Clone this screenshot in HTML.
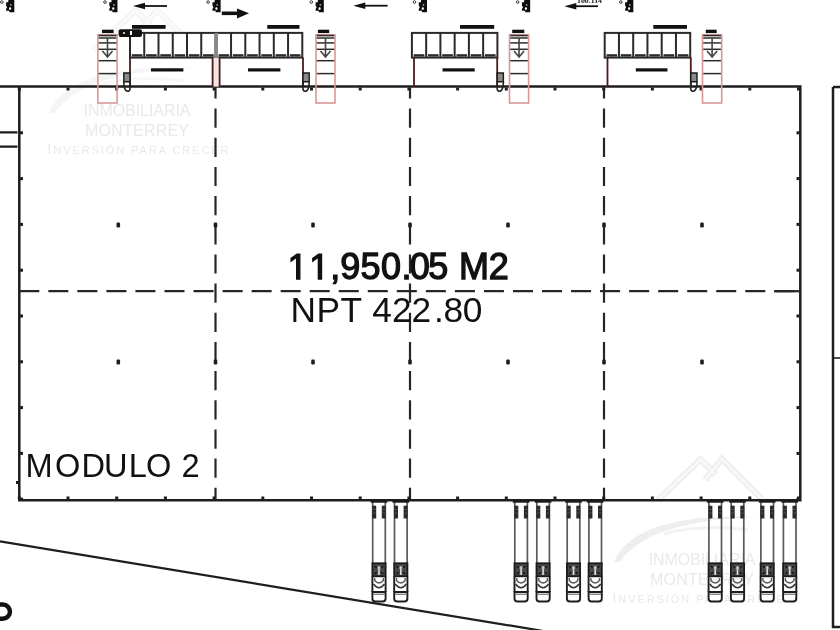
<!DOCTYPE html>
<html><head><meta charset="utf-8"><style>
html,body{margin:0;padding:0;background:#fff;}
body{width:840px;height:630px;overflow:hidden;}
svg{display:block;will-change:transform;}
</style></head><body>
<svg width="840" height="630" viewBox="0 0 840 630">
<g transform="translate(-565,-449)" fill="none" stroke-linejoin="miter" opacity="0.6">
<path d="M658 500 L700.5 459.5 L716 475 M705 480 L722 459 L762 499" stroke="#efefef" stroke-width="6.5"/>
<path d="M658 500 L700.5 459.5 L716 475 M705 480 L722 459 L762 499" stroke="#fafafa" stroke-width="2"/>
<path d="M614 562 C 626 532, 670 513, 760 517 C 690 519, 640 532, 620 562 Z" fill="#eeeeee" stroke="none"/>
<path d="M664 534 C 690 527, 720 526, 748 530" stroke="#f2f2f2" stroke-width="3"/>
</g>
<g transform="translate(-565,-449)" fill="#e9e9e9" font-family="Liberation Sans, sans-serif">
<text x="648.5" y="564.5" font-size="16" textLength="107" lengthAdjust="spacing">INMOBILIARIA</text>
<text x="650" y="584.5" font-size="16" textLength="104" lengthAdjust="spacing">MONTERREY</text>
<text x="612.5" y="603" font-size="14" textLength="181" lengthAdjust="spacing">I<tspan font-size="11">NVERSIÓN PARA CRECER</tspan></text>
</g>
<g transform="translate(0,0)" fill="none" stroke-linejoin="miter" opacity="1">
<path d="M658 500 L700.5 459.5 L716 475 M705 480 L722 459 L762 499" stroke="#efefef" stroke-width="6.5"/>
<path d="M658 500 L700.5 459.5 L716 475 M705 480 L722 459 L762 499" stroke="#fafafa" stroke-width="2"/>
<path d="M614 562 C 626 532, 670 513, 760 517 C 690 519, 640 532, 620 562 Z" fill="#eeeeee" stroke="none"/>
<path d="M664 534 C 690 527, 720 526, 748 530" stroke="#f2f2f2" stroke-width="3"/>
</g>
<g transform="translate(0,0)" fill="#e9e9e9" font-family="Liberation Sans, sans-serif">
<text x="648.5" y="564.5" font-size="16" textLength="107" lengthAdjust="spacing">INMOBILIARIA</text>
<text x="650" y="584.5" font-size="16" textLength="104" lengthAdjust="spacing">MONTERREY</text>
<text x="612.5" y="603" font-size="14" textLength="181" lengthAdjust="spacing">I<tspan font-size="11">NVERSIÓN PARA CRECER</tspan></text>
</g>
<g stroke="#1e1e1e" fill="none" stroke-width="2.5">
<path d="M0 86.5 H800.3 V500.3 H19.3 V86.5" />
<path d="M0 132.3 H17.5 M0 146.7 H17.5" stroke-width="2.2" />
<path d="M833 87 H840 M833 87 V627 H840" />
</g>
<g stroke="#262626" stroke-width="2.2" fill="none">
<path d="M215.5 87.5 V499" stroke-dasharray="19.2 9.97" stroke-dashoffset="8.1"/>
<path d="M410 87.5 V499" stroke-dasharray="19.2 9.97" stroke-dashoffset="8.1"/>
<path d="M604 87.5 V499" stroke-dasharray="19.2 9.97" stroke-dashoffset="8.1"/>
<path d="M19.3 291.2 H799" stroke-dasharray="20 9.04"/>
<path d="M774.3 291.2 H799"/>
</g>
<g fill="#1e1e1e">
<rect x="17.8" y="87.5" width="3" height="3"/>
<rect x="17.8" y="496.5" width="3" height="3"/>
<rect x="66.5" y="87.5" width="3" height="3"/>
<rect x="66.5" y="496.5" width="3" height="3"/>
<rect x="115.2" y="87.5" width="3" height="3"/>
<rect x="115.2" y="496.5" width="3" height="3"/>
<rect x="163.9" y="87.5" width="3" height="3"/>
<rect x="163.9" y="496.5" width="3" height="3"/>
<rect x="212.6" y="87.5" width="3" height="3"/>
<rect x="212.6" y="496.5" width="3" height="3"/>
<rect x="261.3" y="87.5" width="3" height="3"/>
<rect x="261.3" y="496.5" width="3" height="3"/>
<rect x="310.0" y="87.5" width="3" height="3"/>
<rect x="310.0" y="496.5" width="3" height="3"/>
<rect x="358.7" y="87.5" width="3" height="3"/>
<rect x="358.7" y="496.5" width="3" height="3"/>
<rect x="407.4" y="87.5" width="3" height="3"/>
<rect x="407.4" y="496.5" width="3" height="3"/>
<rect x="456.1" y="87.5" width="3" height="3"/>
<rect x="456.1" y="496.5" width="3" height="3"/>
<rect x="504.8" y="87.5" width="3" height="3"/>
<rect x="504.8" y="496.5" width="3" height="3"/>
<rect x="553.5" y="87.5" width="3" height="3"/>
<rect x="553.5" y="496.5" width="3" height="3"/>
<rect x="602.2" y="87.5" width="3" height="3"/>
<rect x="602.2" y="496.5" width="3" height="3"/>
<rect x="650.9" y="87.5" width="3" height="3"/>
<rect x="650.9" y="496.5" width="3" height="3"/>
<rect x="699.6" y="87.5" width="3" height="3"/>
<rect x="699.6" y="496.5" width="3" height="3"/>
<rect x="748.3" y="87.5" width="3" height="3"/>
<rect x="748.3" y="496.5" width="3" height="3"/>
<rect x="797.0" y="87.5" width="3" height="3"/>
<rect x="797.0" y="496.5" width="3" height="3"/>
<rect x="20" y="131.3" width="3" height="3"/>
<rect x="796.5" y="131.3" width="3" height="3"/>
<rect x="20" y="177.1" width="3" height="3"/>
<rect x="796.5" y="177.1" width="3" height="3"/>
<rect x="20" y="222.9" width="3" height="3"/>
<rect x="796.5" y="222.9" width="3" height="3"/>
<rect x="20" y="268.7" width="3" height="3"/>
<rect x="796.5" y="268.7" width="3" height="3"/>
<rect x="20" y="314.5" width="3" height="3"/>
<rect x="796.5" y="314.5" width="3" height="3"/>
<rect x="20" y="360.3" width="3" height="3"/>
<rect x="796.5" y="360.3" width="3" height="3"/>
<rect x="20" y="406.1" width="3" height="3"/>
<rect x="796.5" y="406.1" width="3" height="3"/>
<rect x="20" y="451.9" width="3" height="3"/>
<rect x="796.5" y="451.9" width="3" height="3"/>
<rect x="20" y="497.7" width="3" height="3"/>
<rect x="796.5" y="497.7" width="3" height="3"/>
<rect x="16" y="481" width="3" height="3"/>
<path d="M833 358 H840" stroke="#1e1e1e" stroke-width="1.6"/>
<rect x="116.5" y="222.6" width="3.6" height="4.8" rx="1.2"/>
<rect x="116.5" y="359.6" width="3.6" height="4.8" rx="1.2"/>
<rect x="311.2" y="222.6" width="3.6" height="4.8" rx="1.2"/>
<rect x="311.2" y="359.6" width="3.6" height="4.8" rx="1.2"/>
<rect x="506.2" y="222.6" width="3.6" height="4.8" rx="1.2"/>
<rect x="506.2" y="359.6" width="3.6" height="4.8" rx="1.2"/>
<rect x="700.2" y="222.6" width="3.6" height="4.8" rx="1.2"/>
<rect x="700.2" y="359.6" width="3.6" height="4.8" rx="1.2"/>
<rect x="213.7" y="222.6" width="3.6" height="4.8" rx="1.2"/>
<rect x="213.7" y="359.6" width="3.6" height="4.8" rx="1.2"/>
<rect x="408.2" y="222.6" width="3.6" height="4.8" rx="1.2"/>
<rect x="408.2" y="359.6" width="3.6" height="4.8" rx="1.2"/>
<rect x="602.2" y="222.6" width="3.6" height="4.8" rx="1.2"/>
<rect x="602.2" y="359.6" width="3.6" height="4.8" rx="1.2"/>
</g>
<path d="M0 541.4 L840 680" stroke="#1e1e1e" stroke-width="2.2"/>
<path d="M-4 604.5 H2.8 A 7.15 7.15 0 0 1 2.8 618.8 H-4" stroke="#111" stroke-width="4.5" fill="none"/>
<g stroke="#2a2a2a" stroke-width="2" fill="none">
<rect x="130" y="32.9" width="85.50" height="24.7" fill="#fff"/>
<path d="M144.25 32.9 V57.6"/>
<path d="M158.50 32.9 V57.6"/>
<path d="M172.75 32.9 V57.6"/>
<path d="M187.00 32.9 V57.6"/>
<path d="M201.25 32.9 V57.6"/>
</g>
<rect x="131.80" y="54.2" width="10.65" height="2.4" fill="#2a2a2a"/>
<rect x="146.05" y="54.2" width="10.65" height="2.4" fill="#2a2a2a"/>
<rect x="160.30" y="54.2" width="10.65" height="2.4" fill="#2a2a2a"/>
<rect x="174.55" y="54.2" width="10.65" height="2.4" fill="#2a2a2a"/>
<rect x="188.80" y="54.2" width="10.65" height="2.4" fill="#2a2a2a"/>
<rect x="203.05" y="54.2" width="10.65" height="2.4" fill="#2a2a2a"/>
<g stroke="#2a2a2a" stroke-width="2" fill="none">
<rect x="216.8" y="32.9" width="85.50" height="24.7" fill="#fff"/>
<path d="M231.05 32.9 V57.6"/>
<path d="M245.30 32.9 V57.6"/>
<path d="M259.55 32.9 V57.6"/>
<path d="M273.80 32.9 V57.6"/>
<path d="M288.05 32.9 V57.6"/>
</g>
<rect x="218.60" y="54.2" width="10.65" height="2.4" fill="#2a2a2a"/>
<rect x="232.85" y="54.2" width="10.65" height="2.4" fill="#2a2a2a"/>
<rect x="247.10" y="54.2" width="10.65" height="2.4" fill="#2a2a2a"/>
<rect x="261.35" y="54.2" width="10.65" height="2.4" fill="#2a2a2a"/>
<rect x="275.60" y="54.2" width="10.65" height="2.4" fill="#2a2a2a"/>
<rect x="289.85" y="54.2" width="10.65" height="2.4" fill="#2a2a2a"/>
<g stroke="#2a2a2a" stroke-width="2" fill="none">
<rect x="411.9" y="32.9" width="85.50" height="24.7" fill="#fff"/>
<path d="M426.15 32.9 V57.6"/>
<path d="M440.40 32.9 V57.6"/>
<path d="M454.65 32.9 V57.6"/>
<path d="M468.90 32.9 V57.6"/>
<path d="M483.15 32.9 V57.6"/>
</g>
<rect x="413.70" y="54.2" width="10.65" height="2.4" fill="#2a2a2a"/>
<rect x="427.95" y="54.2" width="10.65" height="2.4" fill="#2a2a2a"/>
<rect x="442.20" y="54.2" width="10.65" height="2.4" fill="#2a2a2a"/>
<rect x="456.45" y="54.2" width="10.65" height="2.4" fill="#2a2a2a"/>
<rect x="470.70" y="54.2" width="10.65" height="2.4" fill="#2a2a2a"/>
<rect x="484.95" y="54.2" width="10.65" height="2.4" fill="#2a2a2a"/>
<g stroke="#2a2a2a" stroke-width="2" fill="none">
<rect x="604.7" y="32.9" width="85.50" height="24.7" fill="#fff"/>
<path d="M618.95 32.9 V57.6"/>
<path d="M633.20 32.9 V57.6"/>
<path d="M647.45 32.9 V57.6"/>
<path d="M661.70 32.9 V57.6"/>
<path d="M675.95 32.9 V57.6"/>
</g>
<rect x="606.50" y="54.2" width="10.65" height="2.4" fill="#2a2a2a"/>
<rect x="620.75" y="54.2" width="10.65" height="2.4" fill="#2a2a2a"/>
<rect x="635.00" y="54.2" width="10.65" height="2.4" fill="#2a2a2a"/>
<rect x="649.25" y="54.2" width="10.65" height="2.4" fill="#2a2a2a"/>
<rect x="663.50" y="54.2" width="10.65" height="2.4" fill="#2a2a2a"/>
<rect x="677.75" y="54.2" width="10.65" height="2.4" fill="#2a2a2a"/>
<rect x="213" y="57.6" width="6.5" height="29" fill="#f6e4e4"/>
<rect x="214.5" y="32.9" width="3.5" height="24.7" fill="#888"/>
<path d="M130 57.6 V87 M212.6 57.6 V87" stroke="#4a1c1c" stroke-width="1.8" fill="none"/>
<rect x="151" y="68.3" width="32.400000000000006" height="3.2" fill="#111"/>
<rect x="132" y="25" width="33.599999999999994" height="3.8" fill="#111"/>
<path d="M219.6 57.6 V87 M303 57.6 V87" stroke="#4a1c1c" stroke-width="1.8" fill="none"/>
<rect x="248" y="68.3" width="32.39999999999998" height="3.2" fill="#111"/>
<rect x="267.3" y="25" width="32.19999999999999" height="3.8" fill="#111"/>
<path d="M414 57.6 V87 M497.2 57.6 V87" stroke="#4a1c1c" stroke-width="1.8" fill="none"/>
<rect x="442.5" y="68.3" width="32.19999999999999" height="3.2" fill="#111"/>
<rect x="460" y="25" width="34.19999999999999" height="3.8" fill="#111"/>
<path d="M607.5 57.6 V87 M690.8 57.6 V87" stroke="#4a1c1c" stroke-width="1.8" fill="none"/>
<rect x="635.8" y="68.3" width="31.700000000000045" height="3.2" fill="#111"/>
<rect x="653.3" y="25" width="33.700000000000045" height="3.8" fill="#111"/>
<rect x="118.6" y="29.3" width="23.4" height="7.7" rx="2" fill="#111"/>
<circle cx="124" cy="33" r="1" fill="#fff"/><rect x="130" y="31" width="2" height="4" fill="#fff"/>
<path d="M130 73 H123.8 V81.7 H130 Z" fill="#8a8a8a" stroke="#1a1a1a" stroke-width="1.4"/>
<path d="M130 81.7 V89 Q130 91.3 127.2 91.3 Q123.8 90 123.8 82" fill="none" stroke="#222" stroke-width="1.6"/>
<path d="M303 73 H309.2 V81.7 H303 Z" fill="#8a8a8a" stroke="#1a1a1a" stroke-width="1.4"/>
<path d="M303 81.7 V89 Q303 91.3 305.8 91.3 Q309.2 90 309.2 82" fill="none" stroke="#222" stroke-width="1.6"/>
<path d="M497.2 73 H503.4 V81.7 H497.2 Z" fill="#8a8a8a" stroke="#1a1a1a" stroke-width="1.4"/>
<path d="M497.2 81.7 V89 Q497.2 91.3 500.0 91.3 Q503.4 90 503.4 82" fill="none" stroke="#222" stroke-width="1.6"/>
<path d="M690.8 73 H697.0 V81.7 H690.8 Z" fill="#8a8a8a" stroke="#1a1a1a" stroke-width="1.4"/>
<path d="M690.8 81.7 V89 Q690.8 91.3 693.5999999999999 91.3 Q697.0 90 697.0 82" fill="none" stroke="#222" stroke-width="1.6"/>
<rect x="97.9" y="34.8" width="19.19999999999999" height="68.2" fill="none" stroke="#d89696" stroke-width="1.6"/>
<g stroke="#2c2c2c" stroke-width="1.5">
<path d="M98.7 35.6 H116.3"/>
<path d="M98.7 38 H116.3"/>
<path d="M98.7 42.9 H116.3"/>
<path d="M98.7 49.3 H116.3"/>
<path d="M98.7 60.7 H116.3"/>
<path d="M98.7 73.6 H116.3"/>
</g>
<path d="M107.5 38 V57 M102.5 51 L107.5 57 L112.5 51" fill="none" stroke="#444" stroke-width="1.6"/>
<rect x="102" y="29.7" width="11.599999999999994" height="3.4" fill="#111"/>
<rect x="316" y="34.8" width="19" height="68.2" fill="none" stroke="#d89696" stroke-width="1.6"/>
<g stroke="#2c2c2c" stroke-width="1.5">
<path d="M316.8 35.6 H334.2"/>
<path d="M316.8 38 H334.2"/>
<path d="M316.8 42.9 H334.2"/>
<path d="M316.8 49.3 H334.2"/>
<path d="M316.8 60.7 H334.2"/>
<path d="M316.8 73.6 H334.2"/>
</g>
<path d="M325.5 38 V57 M320.5 51 L325.5 57 L330.5 51" fill="none" stroke="#444" stroke-width="1.6"/>
<rect x="317.9" y="29.7" width="11.300000000000011" height="3.4" fill="#111"/>
<rect x="509.5" y="34.8" width="19.100000000000023" height="68.2" fill="none" stroke="#d89696" stroke-width="1.6"/>
<g stroke="#2c2c2c" stroke-width="1.5">
<path d="M510.3 35.6 H527.8000000000001"/>
<path d="M510.3 38 H527.8000000000001"/>
<path d="M510.3 42.9 H527.8000000000001"/>
<path d="M510.3 49.3 H527.8000000000001"/>
<path d="M510.3 60.7 H527.8000000000001"/>
<path d="M510.3 73.6 H527.8000000000001"/>
</g>
<path d="M519.05 38 V57 M514.05 51 L519.05 57 L524.05 51" fill="none" stroke="#444" stroke-width="1.6"/>
<rect x="512.2" y="29.7" width="12.099999999999909" height="3.4" fill="#111"/>
<rect x="702.5" y="34.8" width="19.200000000000045" height="68.2" fill="none" stroke="#d89696" stroke-width="1.6"/>
<g stroke="#2c2c2c" stroke-width="1.5">
<path d="M703.3 35.6 H720.9000000000001"/>
<path d="M703.3 38 H720.9000000000001"/>
<path d="M703.3 42.9 H720.9000000000001"/>
<path d="M703.3 49.3 H720.9000000000001"/>
<path d="M703.3 60.7 H720.9000000000001"/>
<path d="M703.3 73.6 H720.9000000000001"/>
</g>
<path d="M712.1 38 V57 M707.1 51 L712.1 57 L717.1 51" fill="none" stroke="#444" stroke-width="1.6"/>
<rect x="705.8" y="29.7" width="10.900000000000091" height="3.4" fill="#111"/>
<circle cx="1.8000000000000007" cy="2.1" r="1.3" fill="none" stroke="#333" stroke-width="1"/>
<path d="M8.3 0 H14.3 V12.3 H9.3 V10.8 H6.1000000000000005 V9 L7.1000000000000005 7.2 L6.1000000000000005 5.5 V2.3 H8.3 Z" fill="#0d0d0d"/>
<ellipse cx="10.100000000000001" cy="8.6" rx="1.1" ry="1.4" fill="#fff"/>
<circle cx="10.8" cy="4.8" r="0.9" fill="#aaa"/>
<circle cx="104.97" cy="2.1" r="1.3" fill="none" stroke="#333" stroke-width="1"/>
<path d="M111.47 0 H117.47 V12.3 H112.47 V10.8 H109.27 V9 L110.27 7.2 L109.27 5.5 V2.3 H111.47 Z" fill="#0d0d0d"/>
<ellipse cx="113.27" cy="8.6" rx="1.1" ry="1.4" fill="#fff"/>
<circle cx="113.97" cy="4.8" r="0.9" fill="#aaa"/>
<circle cx="208.14000000000001" cy="2.1" r="1.3" fill="none" stroke="#333" stroke-width="1"/>
<path d="M214.64000000000001 0 H220.64000000000001 V12.3 H215.64000000000001 V10.8 H212.44000000000003 V9 L213.44000000000003 7.2 L212.44000000000003 5.5 V2.3 H214.64000000000001 Z" fill="#0d0d0d"/>
<ellipse cx="216.44000000000003" cy="8.6" rx="1.1" ry="1.4" fill="#fff"/>
<circle cx="217.14000000000001" cy="4.8" r="0.9" fill="#aaa"/>
<circle cx="311.31" cy="2.1" r="1.3" fill="none" stroke="#333" stroke-width="1"/>
<path d="M317.81 0 H323.81 V12.3 H318.81 V10.8 H315.61 V9 L316.61 7.2 L315.61 5.5 V2.3 H317.81 Z" fill="#0d0d0d"/>
<ellipse cx="319.61" cy="8.6" rx="1.1" ry="1.4" fill="#fff"/>
<circle cx="320.31" cy="4.8" r="0.9" fill="#aaa"/>
<circle cx="414.48" cy="2.1" r="1.3" fill="none" stroke="#333" stroke-width="1"/>
<path d="M420.98 0 H426.98 V12.3 H421.98 V10.8 H418.78000000000003 V9 L419.78000000000003 7.2 L418.78000000000003 5.5 V2.3 H420.98 Z" fill="#0d0d0d"/>
<ellipse cx="422.78000000000003" cy="8.6" rx="1.1" ry="1.4" fill="#fff"/>
<circle cx="423.48" cy="4.8" r="0.9" fill="#aaa"/>
<circle cx="517.65" cy="2.1" r="1.3" fill="none" stroke="#333" stroke-width="1"/>
<path d="M524.15 0 H530.15 V12.3 H525.15 V10.8 H521.9499999999999 V9 L522.9499999999999 7.2 L521.9499999999999 5.5 V2.3 H524.15 Z" fill="#0d0d0d"/>
<ellipse cx="525.9499999999999" cy="8.6" rx="1.1" ry="1.4" fill="#fff"/>
<circle cx="526.65" cy="4.8" r="0.9" fill="#aaa"/>
<circle cx="620.8199999999999" cy="2.1" r="1.3" fill="none" stroke="#333" stroke-width="1"/>
<path d="M627.3199999999999 0 H633.3199999999999 V12.3 H628.3199999999999 V10.8 H625.1199999999999 V9 L626.1199999999999 7.2 L625.1199999999999 5.5 V2.3 H627.3199999999999 Z" fill="#0d0d0d"/>
<ellipse cx="629.1199999999999" cy="8.6" rx="1.1" ry="1.4" fill="#fff"/>
<circle cx="629.8199999999999" cy="4.8" r="0.9" fill="#aaa"/>
<path d="M144 6 H167" stroke="#111" stroke-width="1.8"/><path d="M133 6 L145 2.8 L145 9.2 Z" fill="#111"/>
<path d="M364.3 5.7 H387.6" stroke="#111" stroke-width="1.8"/><path d="M353.3 5.7 L365.3 2.5 L365.3 8.9 Z" fill="#111"/>
<path d="M575.3 6.2 H598" stroke="#111" stroke-width="1.8"/><path d="M564.3 6.2 L576.3 3.0 L576.3 9.4 Z" fill="#111"/>
<text x="577" y="3.3" font-family="Liberation Serif, serif" font-size="7" font-weight="bold" fill="#111" textLength="25" lengthAdjust="spacingAndGlyphs">100.114</text>
<path d="M221.8 13.3 H239" stroke="#111" stroke-width="3.6"/>
<path d="M249 13.3 L237 8.4 V18.4 Z" fill="#111"/>
<path d="M372.7 502 V564 M385.3 502 V564" stroke="#5a5a5a" stroke-width="1.7" fill="none"/>
<rect x="370.7" y="500.5" width="16.6" height="2.2" fill="#1a1a1a"/>
<rect x="372.2" y="505.7" width="4" height="12.8" fill="#2a2a2a"/>
<path d="M372.8 509.5 H375.59999999999997 M372.8 513 H375.59999999999997" stroke="#5a5a5a" stroke-width="0.8"/>
<rect x="381.8" y="505.7" width="4" height="12.8" fill="#2a2a2a"/>
<path d="M382.40000000000003 509.5 H385.2 M382.40000000000003 513 H385.2" stroke="#5a5a5a" stroke-width="0.8"/>
<rect x="372.4" y="563.3" width="13.2" height="13" fill="#4a4a4a" stroke="#1a1a1a" stroke-width="1.8"/>
<path d="M374.7 566 L376.7 568 M383.3 566 L381.3 568 M374.7 574 L376.7 572 M383.3 574 L381.3 572" stroke="#111" stroke-width="1.2"/>
<path d="M379.0 566.5 V575" stroke="#e0e0e0" stroke-width="1.6"/>
<circle cx="379.0" cy="567.8" r="1.3" fill="none" stroke="#bbb" stroke-width="0.8"/>
<path d="M372.4 576.4 V592 M385.6 576.4 V592" stroke="#1e1e1e" stroke-width="1.9" fill="none"/>
<path d="M374.7 578 V580.5 Q379.0 585.5 383.3 580.5 V578" fill="none" stroke="#555" stroke-width="1.4"/>
<path d="M373.5 584 Q379.0 591.5 384.5 584" fill="none" stroke="#333" stroke-width="1.5"/>
<path d="M372.4 592 V598.5 Q372.4 601.5 375.4 601.5 H382.6 Q385.6 601.5 385.6 598.5 V592 Z" fill="#fff" stroke="#1e1e1e" stroke-width="1.9"/>
<path d="M373.2 594.2 H384.8" stroke="#555" stroke-width="1"/>
<path d="M394.5 502 V564 M407.1 502 V564" stroke="#5a5a5a" stroke-width="1.7" fill="none"/>
<rect x="392.5" y="500.5" width="16.6" height="2.2" fill="#1a1a1a"/>
<rect x="394.0" y="505.7" width="4" height="12.8" fill="#2a2a2a"/>
<path d="M394.6 509.5 H397.4 M394.6 513 H397.4" stroke="#5a5a5a" stroke-width="0.8"/>
<rect x="403.6" y="505.7" width="4" height="12.8" fill="#2a2a2a"/>
<path d="M404.20000000000005 509.5 H407.0 M404.20000000000005 513 H407.0" stroke="#5a5a5a" stroke-width="0.8"/>
<rect x="394.2" y="563.3" width="13.2" height="13" fill="#4a4a4a" stroke="#1a1a1a" stroke-width="1.8"/>
<path d="M396.5 566 L398.5 568 M405.1 566 L403.1 568 M396.5 574 L398.5 572 M405.1 574 L403.1 572" stroke="#111" stroke-width="1.2"/>
<path d="M400.8 566.5 V575" stroke="#e0e0e0" stroke-width="1.6"/>
<circle cx="400.8" cy="567.8" r="1.3" fill="none" stroke="#bbb" stroke-width="0.8"/>
<path d="M394.2 576.4 V592 M407.40000000000003 576.4 V592" stroke="#1e1e1e" stroke-width="1.9" fill="none"/>
<path d="M396.5 578 V580.5 Q400.8 585.5 405.1 580.5 V578" fill="none" stroke="#555" stroke-width="1.4"/>
<path d="M395.3 584 Q400.8 591.5 406.3 584" fill="none" stroke="#333" stroke-width="1.5"/>
<path d="M394.2 592 V598.5 Q394.2 601.5 397.2 601.5 H404.40000000000003 Q407.40000000000003 601.5 407.40000000000003 598.5 V592 Z" fill="#fff" stroke="#1e1e1e" stroke-width="1.9"/>
<path d="M395.0 594.2 H406.6" stroke="#555" stroke-width="1"/>
<path d="M514.8 502 V564 M527.4 502 V564" stroke="#5a5a5a" stroke-width="1.7" fill="none"/>
<rect x="512.8" y="500.5" width="16.6" height="2.2" fill="#1a1a1a"/>
<rect x="514.3" y="505.7" width="4" height="12.8" fill="#2a2a2a"/>
<path d="M514.9 509.5 H517.6999999999999 M514.9 513 H517.6999999999999" stroke="#5a5a5a" stroke-width="0.8"/>
<rect x="523.9" y="505.7" width="4" height="12.8" fill="#2a2a2a"/>
<path d="M524.5 509.5 H527.3 M524.5 513 H527.3" stroke="#5a5a5a" stroke-width="0.8"/>
<rect x="514.5" y="563.3" width="13.2" height="13" fill="#4a4a4a" stroke="#1a1a1a" stroke-width="1.8"/>
<path d="M516.8 566 L518.8 568 M525.4 566 L523.4 568 M516.8 574 L518.8 572 M525.4 574 L523.4 572" stroke="#111" stroke-width="1.2"/>
<path d="M521.0999999999999 566.5 V575" stroke="#e0e0e0" stroke-width="1.6"/>
<circle cx="521.0999999999999" cy="567.8" r="1.3" fill="none" stroke="#bbb" stroke-width="0.8"/>
<path d="M514.5 576.4 V592 M527.6999999999999 576.4 V592" stroke="#1e1e1e" stroke-width="1.9" fill="none"/>
<path d="M516.8 578 V580.5 Q521.0999999999999 585.5 525.4 580.5 V578" fill="none" stroke="#555" stroke-width="1.4"/>
<path d="M515.5999999999999 584 Q521.0999999999999 591.5 526.6 584" fill="none" stroke="#333" stroke-width="1.5"/>
<path d="M514.5 592 V598.5 Q514.5 601.5 517.5 601.5 H524.6999999999999 Q527.6999999999999 601.5 527.6999999999999 598.5 V592 Z" fill="#fff" stroke="#1e1e1e" stroke-width="1.9"/>
<path d="M515.3 594.2 H526.9" stroke="#555" stroke-width="1"/>
<path d="M536.8 502 V564 M549.4 502 V564" stroke="#5a5a5a" stroke-width="1.7" fill="none"/>
<rect x="534.8" y="500.5" width="16.6" height="2.2" fill="#1a1a1a"/>
<rect x="536.3" y="505.7" width="4" height="12.8" fill="#2a2a2a"/>
<path d="M536.9 509.5 H539.6999999999999 M536.9 513 H539.6999999999999" stroke="#5a5a5a" stroke-width="0.8"/>
<rect x="545.9" y="505.7" width="4" height="12.8" fill="#2a2a2a"/>
<path d="M546.5 509.5 H549.3 M546.5 513 H549.3" stroke="#5a5a5a" stroke-width="0.8"/>
<rect x="536.5" y="563.3" width="13.2" height="13" fill="#4a4a4a" stroke="#1a1a1a" stroke-width="1.8"/>
<path d="M538.8 566 L540.8 568 M547.4 566 L545.4 568 M538.8 574 L540.8 572 M547.4 574 L545.4 572" stroke="#111" stroke-width="1.2"/>
<path d="M543.0999999999999 566.5 V575" stroke="#e0e0e0" stroke-width="1.6"/>
<circle cx="543.0999999999999" cy="567.8" r="1.3" fill="none" stroke="#bbb" stroke-width="0.8"/>
<path d="M536.5 576.4 V592 M549.6999999999999 576.4 V592" stroke="#1e1e1e" stroke-width="1.9" fill="none"/>
<path d="M538.8 578 V580.5 Q543.0999999999999 585.5 547.4 580.5 V578" fill="none" stroke="#555" stroke-width="1.4"/>
<path d="M537.5999999999999 584 Q543.0999999999999 591.5 548.6 584" fill="none" stroke="#333" stroke-width="1.5"/>
<path d="M536.5 592 V598.5 Q536.5 601.5 539.5 601.5 H546.6999999999999 Q549.6999999999999 601.5 549.6999999999999 598.5 V592 Z" fill="#fff" stroke="#1e1e1e" stroke-width="1.9"/>
<path d="M537.3 594.2 H548.9" stroke="#555" stroke-width="1"/>
<path d="M567.2 502 V564 M579.8000000000001 502 V564" stroke="#5a5a5a" stroke-width="1.7" fill="none"/>
<rect x="565.2" y="500.5" width="16.6" height="2.2" fill="#1a1a1a"/>
<rect x="566.7" y="505.7" width="4" height="12.8" fill="#2a2a2a"/>
<path d="M567.3000000000001 509.5 H570.1 M567.3000000000001 513 H570.1" stroke="#5a5a5a" stroke-width="0.8"/>
<rect x="576.3000000000001" y="505.7" width="4" height="12.8" fill="#2a2a2a"/>
<path d="M576.9000000000001 509.5 H579.7 M576.9000000000001 513 H579.7" stroke="#5a5a5a" stroke-width="0.8"/>
<rect x="566.9000000000001" y="563.3" width="13.2" height="13" fill="#4a4a4a" stroke="#1a1a1a" stroke-width="1.8"/>
<path d="M569.2 566 L571.2 568 M577.8000000000001 566 L575.8000000000001 568 M569.2 574 L571.2 572 M577.8000000000001 574 L575.8000000000001 572" stroke="#111" stroke-width="1.2"/>
<path d="M573.5 566.5 V575" stroke="#e0e0e0" stroke-width="1.6"/>
<circle cx="573.5" cy="567.8" r="1.3" fill="none" stroke="#bbb" stroke-width="0.8"/>
<path d="M566.9000000000001 576.4 V592 M580.1 576.4 V592" stroke="#1e1e1e" stroke-width="1.9" fill="none"/>
<path d="M569.2 578 V580.5 Q573.5 585.5 577.8000000000001 580.5 V578" fill="none" stroke="#555" stroke-width="1.4"/>
<path d="M568.0 584 Q573.5 591.5 579.0000000000001 584" fill="none" stroke="#333" stroke-width="1.5"/>
<path d="M566.9000000000001 592 V598.5 Q566.9000000000001 601.5 569.9000000000001 601.5 H577.1 Q580.1 601.5 580.1 598.5 V592 Z" fill="#fff" stroke="#1e1e1e" stroke-width="1.9"/>
<path d="M567.7 594.2 H579.3000000000001" stroke="#555" stroke-width="1"/>
<path d="M588.9 502 V564 M601.5 502 V564" stroke="#5a5a5a" stroke-width="1.7" fill="none"/>
<rect x="586.9" y="500.5" width="16.6" height="2.2" fill="#1a1a1a"/>
<rect x="588.4" y="505.7" width="4" height="12.8" fill="#2a2a2a"/>
<path d="M589.0 509.5 H591.8 M589.0 513 H591.8" stroke="#5a5a5a" stroke-width="0.8"/>
<rect x="598.0" y="505.7" width="4" height="12.8" fill="#2a2a2a"/>
<path d="M598.6 509.5 H601.4 M598.6 513 H601.4" stroke="#5a5a5a" stroke-width="0.8"/>
<rect x="588.6" y="563.3" width="13.2" height="13" fill="#4a4a4a" stroke="#1a1a1a" stroke-width="1.8"/>
<path d="M590.9 566 L592.9 568 M599.5 566 L597.5 568 M590.9 574 L592.9 572 M599.5 574 L597.5 572" stroke="#111" stroke-width="1.2"/>
<path d="M595.1999999999999 566.5 V575" stroke="#e0e0e0" stroke-width="1.6"/>
<circle cx="595.1999999999999" cy="567.8" r="1.3" fill="none" stroke="#bbb" stroke-width="0.8"/>
<path d="M588.6 576.4 V592 M601.8 576.4 V592" stroke="#1e1e1e" stroke-width="1.9" fill="none"/>
<path d="M590.9 578 V580.5 Q595.1999999999999 585.5 599.5 580.5 V578" fill="none" stroke="#555" stroke-width="1.4"/>
<path d="M589.6999999999999 584 Q595.1999999999999 591.5 600.7 584" fill="none" stroke="#333" stroke-width="1.5"/>
<path d="M588.6 592 V598.5 Q588.6 601.5 591.6 601.5 H598.8 Q601.8 601.5 601.8 598.5 V592 Z" fill="#fff" stroke="#1e1e1e" stroke-width="1.9"/>
<path d="M589.4 594.2 H601.0" stroke="#555" stroke-width="1"/>
<path d="M708.9 502 V564 M721.5 502 V564" stroke="#5a5a5a" stroke-width="1.7" fill="none"/>
<rect x="706.9" y="500.5" width="16.6" height="2.2" fill="#1a1a1a"/>
<rect x="708.4" y="505.7" width="4" height="12.8" fill="#2a2a2a"/>
<path d="M709.0 509.5 H711.8 M709.0 513 H711.8" stroke="#5a5a5a" stroke-width="0.8"/>
<rect x="718.0" y="505.7" width="4" height="12.8" fill="#2a2a2a"/>
<path d="M718.6 509.5 H721.4 M718.6 513 H721.4" stroke="#5a5a5a" stroke-width="0.8"/>
<rect x="708.6" y="563.3" width="13.2" height="13" fill="#4a4a4a" stroke="#1a1a1a" stroke-width="1.8"/>
<path d="M710.9 566 L712.9 568 M719.5 566 L717.5 568 M710.9 574 L712.9 572 M719.5 574 L717.5 572" stroke="#111" stroke-width="1.2"/>
<path d="M715.1999999999999 566.5 V575" stroke="#e0e0e0" stroke-width="1.6"/>
<circle cx="715.1999999999999" cy="567.8" r="1.3" fill="none" stroke="#bbb" stroke-width="0.8"/>
<path d="M708.6 576.4 V592 M721.8 576.4 V592" stroke="#1e1e1e" stroke-width="1.9" fill="none"/>
<path d="M710.9 578 V580.5 Q715.1999999999999 585.5 719.5 580.5 V578" fill="none" stroke="#555" stroke-width="1.4"/>
<path d="M709.6999999999999 584 Q715.1999999999999 591.5 720.7 584" fill="none" stroke="#333" stroke-width="1.5"/>
<path d="M708.6 592 V598.5 Q708.6 601.5 711.6 601.5 H718.8 Q721.8 601.5 721.8 598.5 V592 Z" fill="#fff" stroke="#1e1e1e" stroke-width="1.9"/>
<path d="M709.4 594.2 H721.0" stroke="#555" stroke-width="1"/>
<path d="M731.2 502 V564 M743.8000000000001 502 V564" stroke="#5a5a5a" stroke-width="1.7" fill="none"/>
<rect x="729.2" y="500.5" width="16.6" height="2.2" fill="#1a1a1a"/>
<rect x="730.7" y="505.7" width="4" height="12.8" fill="#2a2a2a"/>
<path d="M731.3000000000001 509.5 H734.1 M731.3000000000001 513 H734.1" stroke="#5a5a5a" stroke-width="0.8"/>
<rect x="740.3000000000001" y="505.7" width="4" height="12.8" fill="#2a2a2a"/>
<path d="M740.9000000000001 509.5 H743.7 M740.9000000000001 513 H743.7" stroke="#5a5a5a" stroke-width="0.8"/>
<rect x="730.9000000000001" y="563.3" width="13.2" height="13" fill="#4a4a4a" stroke="#1a1a1a" stroke-width="1.8"/>
<path d="M733.2 566 L735.2 568 M741.8000000000001 566 L739.8000000000001 568 M733.2 574 L735.2 572 M741.8000000000001 574 L739.8000000000001 572" stroke="#111" stroke-width="1.2"/>
<path d="M737.5 566.5 V575" stroke="#e0e0e0" stroke-width="1.6"/>
<circle cx="737.5" cy="567.8" r="1.3" fill="none" stroke="#bbb" stroke-width="0.8"/>
<path d="M730.9000000000001 576.4 V592 M744.1 576.4 V592" stroke="#1e1e1e" stroke-width="1.9" fill="none"/>
<path d="M733.2 578 V580.5 Q737.5 585.5 741.8000000000001 580.5 V578" fill="none" stroke="#555" stroke-width="1.4"/>
<path d="M732.0 584 Q737.5 591.5 743.0000000000001 584" fill="none" stroke="#333" stroke-width="1.5"/>
<path d="M730.9000000000001 592 V598.5 Q730.9000000000001 601.5 733.9000000000001 601.5 H741.1 Q744.1 601.5 744.1 598.5 V592 Z" fill="#fff" stroke="#1e1e1e" stroke-width="1.9"/>
<path d="M731.7 594.2 H743.3000000000001" stroke="#555" stroke-width="1"/>
<path d="M760.9 502 V564 M773.5 502 V564" stroke="#5a5a5a" stroke-width="1.7" fill="none"/>
<rect x="758.9" y="500.5" width="16.6" height="2.2" fill="#1a1a1a"/>
<rect x="760.4" y="505.7" width="4" height="12.8" fill="#2a2a2a"/>
<path d="M761.0 509.5 H763.8 M761.0 513 H763.8" stroke="#5a5a5a" stroke-width="0.8"/>
<rect x="770.0" y="505.7" width="4" height="12.8" fill="#2a2a2a"/>
<path d="M770.6 509.5 H773.4 M770.6 513 H773.4" stroke="#5a5a5a" stroke-width="0.8"/>
<rect x="760.6" y="563.3" width="13.2" height="13" fill="#4a4a4a" stroke="#1a1a1a" stroke-width="1.8"/>
<path d="M762.9 566 L764.9 568 M771.5 566 L769.5 568 M762.9 574 L764.9 572 M771.5 574 L769.5 572" stroke="#111" stroke-width="1.2"/>
<path d="M767.1999999999999 566.5 V575" stroke="#e0e0e0" stroke-width="1.6"/>
<circle cx="767.1999999999999" cy="567.8" r="1.3" fill="none" stroke="#bbb" stroke-width="0.8"/>
<path d="M760.6 576.4 V592 M773.8 576.4 V592" stroke="#1e1e1e" stroke-width="1.9" fill="none"/>
<path d="M762.9 578 V580.5 Q767.1999999999999 585.5 771.5 580.5 V578" fill="none" stroke="#555" stroke-width="1.4"/>
<path d="M761.6999999999999 584 Q767.1999999999999 591.5 772.7 584" fill="none" stroke="#333" stroke-width="1.5"/>
<path d="M760.6 592 V598.5 Q760.6 601.5 763.6 601.5 H770.8 Q773.8 601.5 773.8 598.5 V592 Z" fill="#fff" stroke="#1e1e1e" stroke-width="1.9"/>
<path d="M761.4 594.2 H773.0" stroke="#555" stroke-width="1"/>
<path d="M783.4 502 V564 M796.0 502 V564" stroke="#5a5a5a" stroke-width="1.7" fill="none"/>
<rect x="781.4" y="500.5" width="16.6" height="2.2" fill="#1a1a1a"/>
<rect x="782.9" y="505.7" width="4" height="12.8" fill="#2a2a2a"/>
<path d="M783.5 509.5 H786.3 M783.5 513 H786.3" stroke="#5a5a5a" stroke-width="0.8"/>
<rect x="792.5" y="505.7" width="4" height="12.8" fill="#2a2a2a"/>
<path d="M793.1 509.5 H795.9 M793.1 513 H795.9" stroke="#5a5a5a" stroke-width="0.8"/>
<rect x="783.1" y="563.3" width="13.2" height="13" fill="#4a4a4a" stroke="#1a1a1a" stroke-width="1.8"/>
<path d="M785.4 566 L787.4 568 M794.0 566 L792.0 568 M785.4 574 L787.4 572 M794.0 574 L792.0 572" stroke="#111" stroke-width="1.2"/>
<path d="M789.6999999999999 566.5 V575" stroke="#e0e0e0" stroke-width="1.6"/>
<circle cx="789.6999999999999" cy="567.8" r="1.3" fill="none" stroke="#bbb" stroke-width="0.8"/>
<path d="M783.1 576.4 V592 M796.3 576.4 V592" stroke="#1e1e1e" stroke-width="1.9" fill="none"/>
<path d="M785.4 578 V580.5 Q789.6999999999999 585.5 794.0 580.5 V578" fill="none" stroke="#555" stroke-width="1.4"/>
<path d="M784.1999999999999 584 Q789.6999999999999 591.5 795.2 584" fill="none" stroke="#333" stroke-width="1.5"/>
<path d="M783.1 592 V598.5 Q783.1 601.5 786.1 601.5 H793.3 Q796.3 601.5 796.3 598.5 V592 Z" fill="#fff" stroke="#1e1e1e" stroke-width="1.9"/>
<path d="M783.9 594.2 H795.5" stroke="#555" stroke-width="1"/>
<g font-family="Liberation Sans, sans-serif" fill="#111">
<path transform="translate(287.6,279) scale(0.017578,-0.017578)" d="M515 0V1237L197 1010V1180L530 1409H696V0Z" stroke="#111" stroke-width="74"/>
<path transform="translate(309.3,279) scale(0.017578,-0.017578)" d="M515 0V1237L197 1010V1180L530 1409H696V0Z" stroke="#111" stroke-width="74"/>
<text x="330.2 340.2 360.4 381.1 401.5 409.8 428.3 448.6 458.9 488.7" y="279" font-size="36" stroke="#111" stroke-width="1.3">,950.05 M2</text>
<text x="290.5 316.4 340.4 362.4 372.3 391.9 411.6 434.1 443.5 462.8" y="322" font-size="35.3">NPT 422.80</text>
<text x="25.6 54.9 81.4 104 128.8 146 173 181.5" y="477" font-size="32.6">MODULO 2</text>
</g>
</svg>
</body></html>
